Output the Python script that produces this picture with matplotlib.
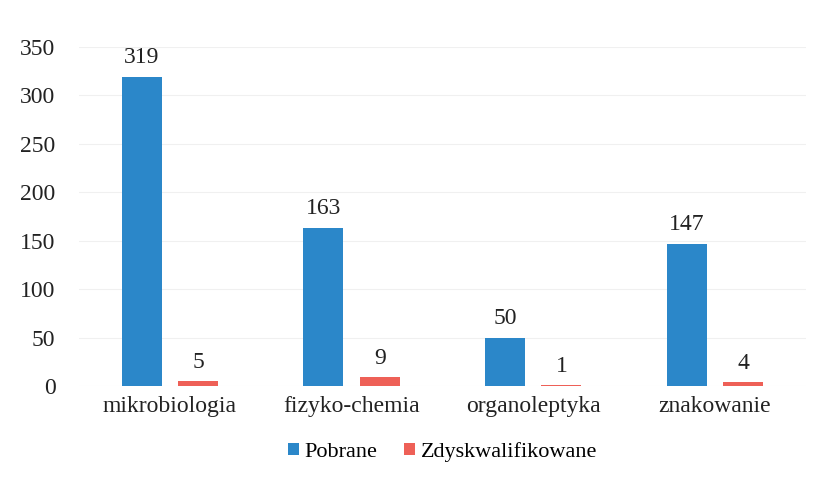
import matplotlib.pyplot as plt
import numpy as np

# data
categories = ['mikrobiologia', 'fizyko-chemia', 'organoleptyka', 'znakowanie']
pobrane = [319, 163, 50, 147]
zdyskwalifikowane = [5, 9, 1, 4]

plt.rcParams['font.family'] = ['Liberation Serif', 'DejaVu Serif']

blue = '#2B87C9'
red = '#EE6057'

fig = plt.figure(figsize=(8.23, 4.78), dpi=100)
ax = fig.add_axes([0.096, 0.192, 0.883, 0.71])

x = np.arange(len(categories))
w = 0.22
off = 0.155
b1 = ax.bar(x - off, pobrane, w, color=blue, label='Pobrane', zorder=3)
b2 = ax.bar(x + off, zdyskwalifikowane, w, color=red, label='Zdyskwalifikowane', zorder=3)

for bars in (b1, b2):
    for rect in bars:
        h = rect.get_height()
        ax.text(rect.get_x() + rect.get_width() / 2, h + 9, str(int(h)),
                ha='center', va='bottom', fontsize=17, color='#222222')

ax.set_ylim(0, 350)
ax.set_xlim(-0.5, len(categories) - 0.5)
ax.set_yticks(range(0, 351, 50))
ax.set_xticks(x)
ax.set_xticklabels(categories)
ax.tick_params(axis='both', length=0, labelsize=17, colors='#222222')
ax.tick_params(axis='y', pad=17)
ax.tick_params(axis='x', pad=7)
ax.yaxis.grid(True, color='#f0f0f0', linewidth=0.8, zorder=0)
for s in ax.spines.values():
    s.set_visible(False)

ax.legend(loc='upper center', bbox_to_anchor=(0.5, -0.105), ncol=2, frameon=False,
          fontsize=16, handlelength=0.5, handleheight=0.5, handletextpad=0.25,
          columnspacing=1.2)

plt.savefig('out.png', dpi=100)
